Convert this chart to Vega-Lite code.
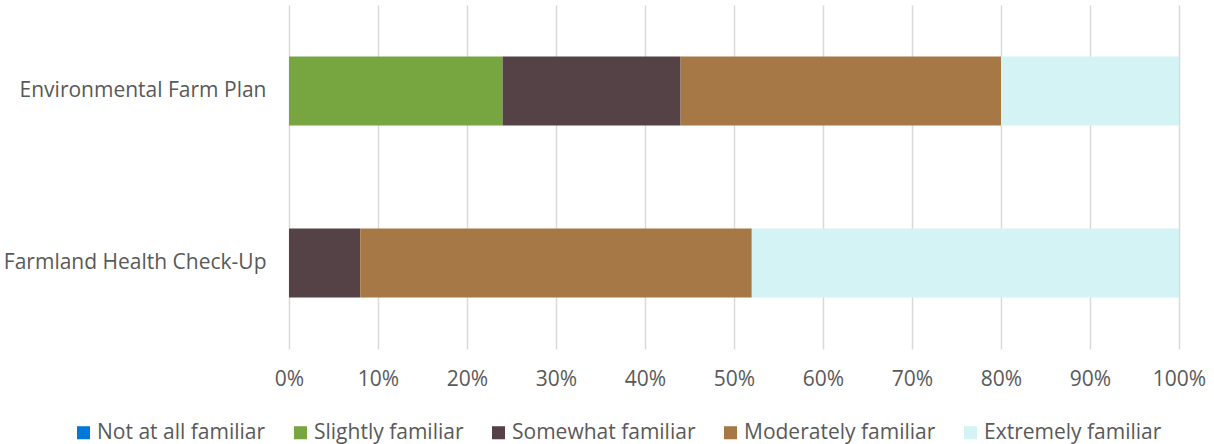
{
  "$schema": "https://vega.github.io/schema/vega-lite/v6.json",
  "width": 890,
  "height": 344,
  "autosize": {"type": "none"},
  "padding": {"left": 289, "top": 5, "right": 35, "bottom": 95},
  "background": "white",
  "config": {
    "view": {"stroke": null},
    "font": "Open Sans",
    "axis": {"labelFont": "Open Sans", "labelColor": "#595959", "labelFontSize": 21},
    "legend": {"labelFont": "Open Sans", "labelColor": "#595959", "labelFontSize": 21}
  },
  "data": {
    "values": [
      {"program": "Environmental Farm Plan", "level": "Not at all familiar", "order": 1, "pct": 0},
      {"program": "Environmental Farm Plan", "level": "Slightly familiar", "order": 2, "pct": 24},
      {"program": "Environmental Farm Plan", "level": "Somewhat familiar", "order": 3, "pct": 20},
      {"program": "Environmental Farm Plan", "level": "Moderately familiar", "order": 4, "pct": 36},
      {"program": "Environmental Farm Plan", "level": "Extremely familiar", "order": 5, "pct": 20},
      {"program": "Farmland Health Check-Up", "level": "Not at all familiar", "order": 1, "pct": 0},
      {"program": "Farmland Health Check-Up", "level": "Slightly familiar", "order": 2, "pct": 0},
      {"program": "Farmland Health Check-Up", "level": "Somewhat familiar", "order": 3, "pct": 8},
      {"program": "Farmland Health Check-Up", "level": "Moderately familiar", "order": 4, "pct": 44},
      {"program": "Farmland Health Check-Up", "level": "Extremely familiar", "order": 5, "pct": 48}
    ]
  },
  "mark": {"type": "bar"},
  "encoding": {
    "y": {
      "field": "program",
      "type": "nominal",
      "sort": ["Environmental Farm Plan", "Farmland Health Check-Up"],
      "scale": {"paddingInner": 0.6, "paddingOuter": 0.3},
      "axis": {"title": null, "domain": false, "ticks": false, "labelPadding": 23, "labelLimit": 300}
    },
    "x": {
      "field": "pct",
      "type": "quantitative",
      "stack": "normalize",
      "scale": {"domain": [0, 1], "nice": false},
      "axis": {
        "title": null,
        "format": ".0%",
        "values": [0, 0.1, 0.2, 0.3, 0.4, 0.5, 0.6, 0.7, 0.8, 0.9, 1],
        "labelOverlap": false,
        "labelFlush": false,
        "domain": false,
        "ticks": false,
        "grid": true,
        "gridColor": "#d9d9d9",
        "gridWidth": 1.5,
        "labelPadding": 19
      }
    },
    "order": {"field": "order", "type": "quantitative"},
    "color": {
      "field": "level",
      "type": "nominal",
      "scale": {
        "domain": ["Not at all familiar", "Slightly familiar", "Somewhat familiar", "Moderately familiar", "Extremely familiar"],
        "range": ["#0078D7", "#77A53F", "#554247", "#A57845", "#D4F3F5"]
      },
      "legend": {
        "title": null,
        "orient": "none",
        "direction": "horizontal",
        "legendX": -216,
        "legendY": 417,
        "symbolType": "square",
        "symbolSize": 170,
        "symbolStrokeWidth": 0,
        "labelOffset": 3,
        "columnPadding": 24,
        "labelLimit": 300
      }
    }
  }
}
